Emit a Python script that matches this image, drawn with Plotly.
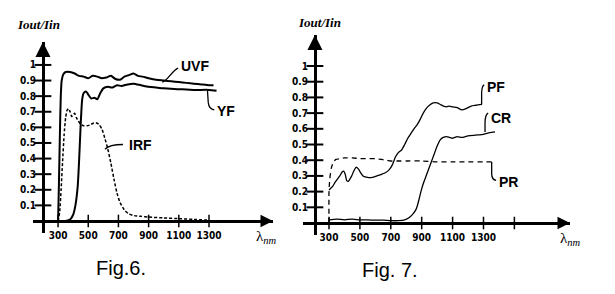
import plotly.graph_objects as go

W, H = 615, 294

# ---------------- Fig. 6 data ----------------
uvf_x = [300, 305, 312, 318, 324, 335, 350, 380, 410, 440, 470, 500, 530, 560, 590, 620, 650,
         680, 710, 740, 770, 800, 830, 860, 900, 950, 1000, 1050, 1100, 1150, 1200, 1250, 1300, 1330]
uvf_y = [0, 0.2, 0.55, 0.8, 0.9, 0.94, 0.955, 0.955, 0.945, 0.93, 0.925, 0.915, 0.93, 0.925, 0.915,
         0.92, 0.93, 0.91, 0.905, 0.925, 0.935, 0.945, 0.93, 0.925, 0.915, 0.905, 0.9, 0.895, 0.89,
         0.885, 0.88, 0.875, 0.87, 0.87]

yf_x = [350, 380, 400, 415, 430, 440, 450, 460, 470, 485, 500, 520, 540, 560, 580, 600, 630, 660,
        690, 720, 760, 800, 850, 900, 950, 1000, 1100, 1200, 1300, 1350]
yf_y = [0, 0.01, 0.04, 0.1, 0.22, 0.4, 0.62, 0.78, 0.82, 0.83, 0.81, 0.785, 0.79, 0.78, 0.82, 0.85,
        0.86, 0.855, 0.87, 0.865, 0.875, 0.88, 0.87, 0.86, 0.855, 0.85, 0.845, 0.84, 0.84, 0.835]

irf_x = [300, 310, 320, 330, 340, 350, 360, 370, 380, 390, 400, 410, 420, 435, 450, 470, 490, 510,
         530, 550, 570, 590, 610, 630, 650, 670, 690, 710, 740, 770, 800, 850, 900, 1000, 1100, 1200, 1300]
irf_y = [0, 0.05, 0.2, 0.38, 0.55, 0.66, 0.71, 0.72, 0.7, 0.67, 0.68, 0.69, 0.665, 0.64, 0.62, 0.61,
         0.61, 0.615, 0.625, 0.63, 0.62, 0.59, 0.53, 0.46, 0.37, 0.27, 0.18, 0.12, 0.07, 0.045, 0.035,
         0.03, 0.025, 0.02, 0.015, 0.01, 0.005]

# ---------------- Fig. 7 data ----------------
pf_x = [300, 310, 325, 340, 355, 370, 385, 395, 405, 415, 425, 435, 447, 460, 475, 490, 505, 520, 550,
        580, 610, 640, 665, 690, 710, 730, 750, 770, 790, 810, 830, 850, 870, 890, 910, 930, 950, 975,
        1000, 1020, 1040, 1060, 1080, 1100, 1130, 1160, 1190, 1220, 1250, 1290]
pf_y = [0.21, 0.22, 0.235, 0.26, 0.28, 0.3, 0.325, 0.33, 0.31, 0.27, 0.265, 0.28, 0.3, 0.33, 0.355,
        0.345, 0.32, 0.3, 0.29, 0.29, 0.3, 0.31, 0.32, 0.34, 0.37, 0.42, 0.45, 0.465, 0.5, 0.54, 0.57,
        0.6, 0.625, 0.66, 0.7, 0.73, 0.75, 0.765, 0.765, 0.755, 0.745, 0.74, 0.745, 0.74, 0.735, 0.72,
        0.73, 0.745, 0.75, 0.755]

cr_x = [300, 350, 400, 450, 500, 550, 600, 650, 700, 750, 790, 820, 845, 865, 880, 895, 910, 925,
        940, 955, 970, 985, 1000, 1020, 1040, 1060, 1080, 1100, 1130, 1160, 1200, 1250, 1300, 1340, 1375]
cr_y = [0.02, 0.025, 0.02, 0.025, 0.02, 0.02, 0.018, 0.018, 0.015, 0.015, 0.02, 0.035, 0.06, 0.09,
        0.14, 0.2, 0.25, 0.29, 0.33, 0.37, 0.41, 0.45, 0.49, 0.53, 0.545, 0.55, 0.545, 0.54, 0.55,
        0.545, 0.555, 0.56, 0.565, 0.575, 0.58]

pr_x = [300, 300, 305, 315, 330, 345, 370, 400, 450, 500, 550, 600, 640, 670, 700, 750, 800, 900,
        1000, 1100, 1200, 1300, 1355]
pr_y = [0, 0.2, 0.28, 0.35, 0.39, 0.405, 0.41, 0.415, 0.415, 0.41, 0.41, 0.41, 0.405, 0.4, 0.395,
        0.395, 0.395, 0.395, 0.39, 0.39, 0.39, 0.39, 0.39]

# ticks
x_ticks = [300, 500, 700, 900, 1100, 1300]
x_tick_text = ["300", "500", "700", "900", "1100", "1300"]
x_ticks2 = [300, 500, 700, 900, 1100, 1300, 1500]
x_tick_text2 = ["300", "500", "700", "900", "1100", "1300", ""]
y_ticks = [0.1, 0.2, 0.3, 0.4, 0.5, 0.6, 0.7, 0.8, 0.9, 1.0]
y_tick_text = ["0.1", "0.2", "0.3", "0.4", "0.5", "0.6", "0.7", "0.8", "0.9", "1"]

BLACK = "#000000"
TICKFONT = dict(family="DejaVu Sans Condensed", size=10, color=BLACK, weight="bold")
LABFONT = dict(family="Liberation Sans, Arial, sans-serif", size=14, color=BLACK, weight="bold")

fig = go.Figure()

def line(x, y, xa, ya, width, dash="solid"):
    fig.add_trace(go.Scatter(x=x, y=y, xaxis=xa, yaxis=ya, mode="lines",
                             line=dict(color=BLACK, width=width, dash=dash, shape="spline",
                                       smoothing=0.6),
                             hoverinfo="skip", showlegend=False))

# left
line(uvf_x, uvf_y, "x", "y", 2.0)
line(yf_x, yf_y, "x", "y", 2.0)
line(irf_x, irf_y, "x", "y", 1.5, "3px,2px")
# right
line(pf_x, pf_y, "x2", "y2", 1.3)
line(cr_x, cr_y, "x2", "y2", 1.3)
line(pr_x, pr_y, "x2", "y2", 1.3, "5px,4px")

# crossing tick marks
for xa, ya, xorig, xt in (("x", "y", 200, x_ticks), ("x2", "y2", 209, x_ticks2)):
    fig.add_trace(go.Scatter(x=[xorig] * len(y_ticks), y=y_ticks, xaxis=xa, yaxis=ya, mode="markers",
                             marker=dict(symbol="line-ew", size=12, line=dict(width=2, color=BLACK)),
                             hoverinfo="skip", showlegend=False))
    fig.add_trace(go.Scatter(x=xt, y=[0] * len(xt), xaxis=xa, yaxis=ya, mode="markers",
                             marker=dict(symbol="line-ns", size=9, line=dict(width=1.5, color=BLACK)),
                             hoverinfo="skip", showlegend=False))

def px2paper_x(px):
    return px / W

def px2paper_y(py):
    return 1 - py / H

# axes
fig.update_layout(
    width=W, height=H, margin=dict(l=0, r=0, t=0, b=0),
    paper_bgcolor="white", plot_bgcolor="rgba(0,0,0,0)",
    showlegend=False,
    xaxis=dict(domain=[px2paper_x(33), px2paper_x(273)], range=[134, 1724], anchor="free",
               position=px2paper_y(221), showline=True, linewidth=2.5, linecolor=BLACK,
               showgrid=False, zeroline=False, ticks="", tickvals=x_ticks, ticktext=x_tick_text,
               tickfont=TICKFONT, ticklabelstandoff=4, tickangle=0),
    yaxis=dict(domain=[px2paper_y(233), px2paper_y(42)], range=[-0.077, 1.147], anchor="free",
               position=px2paper_x(43), showline=True, linewidth=3, linecolor=BLACK,
               showgrid=False, zeroline=False, ticks="", tickvals=y_ticks, ticktext=y_tick_text,
               tickfont=TICKFONT, ticklabelstandoff=4),
    xaxis2=dict(domain=[px2paper_x(303), px2paper_x(570)], range=[131.7, 1860], anchor="free",
                position=px2paper_y(223), showline=True, linewidth=2.5, linecolor=BLACK,
                showgrid=False, zeroline=False, ticks="", tickvals=x_ticks2, ticktext=x_tick_text2,
                tickfont=TICKFONT, ticklabelstandoff=4, tickangle=0),
    yaxis2=dict(domain=[px2paper_y(235), px2paper_y(35)], range=[-0.0764, 1.1975], anchor="free",
                position=px2paper_x(315), showline=True, linewidth=3, linecolor=BLACK,
                showgrid=False, zeroline=False, ticks="", tickvals=y_ticks, ticktext=y_tick_text,
                tickfont=TICKFONT, ticklabelstandoff=4),
)

ann = []
# axis arrowheads
for xr, yr, xe in (("x", "y", 1724), ("x2", "y2", 1860)):
    ann.append(dict(x=xe, y=0, xref=xr, yref=yr, ax=-14, ay=0, text="", showarrow=True,
                    arrowhead=2, arrowsize=1, arrowwidth=2.5, arrowcolor=BLACK))
for xr, yr, xo, yt in (("x", "y", 200, 1.147), ("x2", "y2", 209, 1.1975)):
    ann.append(dict(x=xo, y=yt, xref=xr, yref=yr, ax=0, ay=12, text="", showarrow=True,
                    arrowhead=2, arrowsize=1, arrowwidth=3, arrowcolor=BLACK))

# curve labels
for txt, xr, yr, xv, yv in (("UVF", "x", "y", 1100, 0.99), ("YF", "x", "y", 1340, 0.705),
                            ("IRF", "x", "y", 757, 0.49),
                            ("PF", "x2", "y2", 1310, 0.865), ("CR", "x2", "y2", 1335, 0.672),
                            ("PR", "x2", "y2", 1387, 0.264)):
    ann.append(dict(x=xv, y=yv, xref=xr, yref=yr, text=txt, showarrow=False, xanchor="left",
                    yanchor="middle", font=LABFONT))

# axis titles
TITLEFONT = dict(family="Liberation Serif, serif", size=13, color=BLACK, style="italic", weight="bold")
for px, py in ((38, 25), (319, 23)):
    ann.append(dict(x=px2paper_x(px), y=px2paper_y(py), xref="paper", yref="paper",
                    text="Iout/Iin", showarrow=False, xanchor="center",
                    yanchor="middle", font=TITLEFONT))
for px, py in ((266, 237), (570, 239)):
    ann.append(dict(x=px2paper_x(px), y=px2paper_y(py), xref="paper", yref="paper",
                    text="λ<sub><i>nm</i></sub>", showarrow=False, xanchor="center",
                    yanchor="middle", font=dict(family="Liberation Serif, serif", size=15, color=BLACK)))

# figure captions
CAPFONT = dict(family="Liberation Sans, Arial, sans-serif", size=20, color=BLACK)
ann.append(dict(x=px2paper_x(121), y=px2paper_y(268), xref="paper", yref="paper", text="Fig.6.",
                showarrow=False, xanchor="center", yanchor="middle", font=CAPFONT))
ann.append(dict(x=px2paper_x(390), y=px2paper_y(270), xref="paper", yref="paper", text="Fig. 7.",
                showarrow=False, xanchor="center", yanchor="middle", font=CAPFONT))
fig.update_layout(annotations=ann)

# leader lines
shapes = [
    dict(type="path", xref="x", yref="y", path="M 990,0.89 C 1030,0.90 1050,0.96 1095,0.98"),
    dict(type="path", xref="x", yref="y", path="M 1290,0.835 L 1295,0.76 Q 1300,0.715 1335,0.712"),
    dict(type="path", xref="x", yref="y", path="M 611,0.46 Q 640,0.49 730,0.49"),
    dict(type="path", xref="x2", yref="y2", path="M 1288,0.755 L 1288,0.83 Q 1290,0.875 1305,0.88"),
    dict(type="path", xref="x2", yref="y2", path="M 1310,0.58 L 1310,0.64 Q 1311,0.69 1330,0.70"),
    dict(type="path", xref="x2", yref="y2", path="M 1353,0.39 L 1353,0.31 Q 1355,0.275 1382,0.272"),
]
for s in shapes:
    s["line"] = dict(color=BLACK, width=1.3)
fig.update_layout(shapes=shapes)

fig.write_html("out.html")
